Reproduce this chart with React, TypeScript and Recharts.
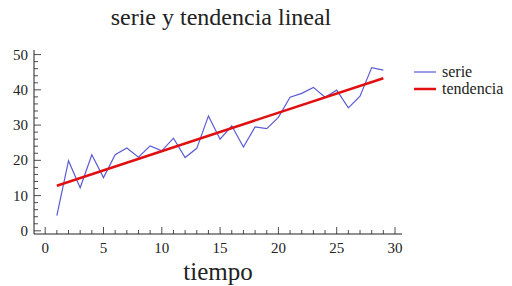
import React from "react";
import { LineChart, Line, XAxis, YAxis } from "recharts";

const TIEMPO = [1, 2, 3, 4, 5, 6, 7, 8, 9, 10, 11, 12, 13, 14, 15, 16, 17, 18, 19, 20, 21, 22, 23, 24, 25, 26, 27, 28, 29];
const SERIE = [4.3, 19.9, 12.2, 21.6, 15.1, 21.6, 23.5, 20.9, 24.1, 22.7, 26.3, 20.8, 23.4, 32.6, 26.0, 29.8, 23.8, 29.5, 29.0, 32.2, 37.9, 39.0, 40.7, 37.9, 39.9, 34.9, 38.2, 46.3, 45.6];
// fitted line, read at both ends
const TENDENCIA_X = [1, 29];
const TENDENCIA_Y = [12.8, 43.3];

const X_TICKS = Array.from({ length: 31 }, (_, i) => i);
const Y_TICKS = Array.from({ length: 26 }, (_, i) => i * 2);

const serieData = TIEMPO.map((t, i) => ({ t, serie: SERIE[i] }));
const trendData = TENDENCIA_X.map((t, i) => ({ t, tendencia: TENDENCIA_Y[i] }));

const FONT = "'Liberation Serif', 'DejaVu Serif', serif";

function XTick(props: any) {
  const { x, y, payload } = props;
  const v = payload.value;
  const major = v % 5 === 0;
  return (
    <g>
      <line x1={x} x2={x} y1={y} y2={y - (major ? 7 : 4)} stroke="#222" strokeWidth={0.8} />
      {major && (
        <text x={x} y={y + 19} textAnchor="middle" fontFamily={FONT} fontSize={15} fill="#222">
          {v}
        </text>
      )}
    </g>
  );
}

function YTick(props: any) {
  const { x, y, payload } = props;
  const v = payload.value;
  const major = v % 10 === 0;
  return (
    <g>
      <line x1={x} x2={x + (major ? 7 : 4)} y1={y} y2={y} stroke="#222" strokeWidth={0.8} />
      {major && (
        <text x={x - 6} y={y + 5} textAnchor="end" fontFamily={FONT} fontSize={15} fill="#222">
          {v}
        </text>
      )}
    </g>
  );
}

const LEGEND = [
  { name: "serie", color: "#5b5bd6", w: 1.2 },
  { name: "tendencia", color: "#e01010", w: 2.5 },
];

export default function App() {
  return (
    <div style={{ position: "absolute", left: 0, top: 0, width: 512, height: 286, background: "#fff" }}>
      <div
        style={{
          position: "absolute",
          left: 0,
          top: 4,
          width: 442,
          textAlign: "center",
          fontFamily: FONT,
          fontSize: 24,
          color: "#222",
        }}
      >
        serie y tendencia lineal
      </div>
      <div
        style={{ position: "absolute", left: 414, top: 63, fontFamily: FONT, fontSize: 16, lineHeight: "16px", color: "#222" }}
      >
        {LEGEND.map((it) => (
          <div key={it.name} style={{ display: "flex", alignItems: "center", height: 17 }}>
            <svg width={24} height={16}>
              <line x1={0} x2={22} y1={8} y2={8} stroke={it.color} strokeWidth={it.w} />
            </svg>
            <span style={{ marginLeft: 4 }}>{it.name}</span>
          </div>
        ))}
      </div>
      <LineChart width={512} height={286} margin={{ top: 50, left: 0, right: 110, bottom: 0 }}>
        <XAxis
          dataKey="t"
          type="number"
          domain={[-0.96, 30.6]}
          allowDataOverflow
          ticks={X_TICKS}
          interval={0}
          tickSize={0}
          tickMargin={0}
          tickLine={false}
          tick={<XTick />}
          height={52}
          stroke="#222"
          label={{ value: "tiempo", position: "insideBottom", offset: 6, fontFamily: FONT, fontSize: 25, fill: "#222" }}
        />
        <YAxis
          type="number"
          domain={[-0.9, 51.3]}
          allowDataOverflow
          ticks={Y_TICKS}
          interval={0}
          tickSize={0}
          tickMargin={0}
          tickLine={false}
          tick={<YTick />}
          width={34}
          stroke="#222"
        />
        <Line
          data={serieData}
          dataKey="serie"
          name="serie"
          stroke="#5b5bd6"
          strokeWidth={1.2}
          dot={false}
          isAnimationActive={false}
        />
        <Line
          data={trendData}
          dataKey="tendencia"
          name="tendencia"
          stroke="#e01010"
          strokeWidth={2.5}
          dot={false}
          isAnimationActive={false}
        />
      </LineChart>
    </div>
  );
}
